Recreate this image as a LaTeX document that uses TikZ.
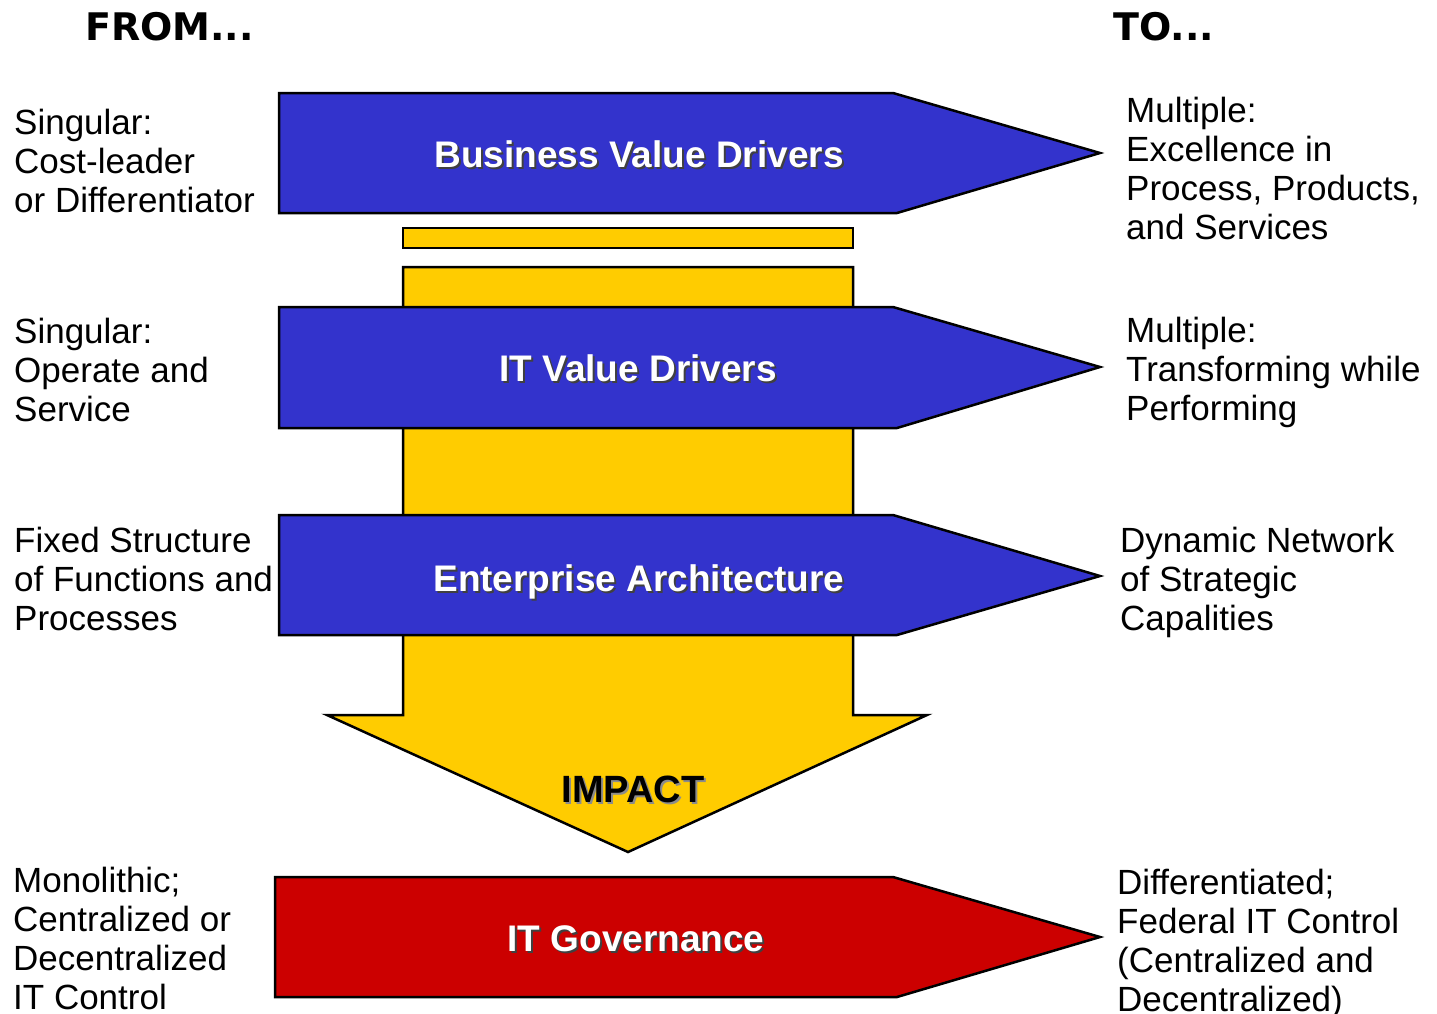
\documentclass[tikz,border=0pt]{standalone}
\usepackage{fontspec}
\setmainfont{Liberation Sans}
\newfontfamily\headfont{DejaVu Sans}
\definecolor{bvblue}{HTML}{3333CC}
\definecolor{impyellow}{HTML}{FFCC00}
\definecolor{govred}{HTML}{CC0000}
\begin{document}
\begin{tikzpicture}[x=1pt,y=-1pt,
  outline/.style={draw=black, line width=2.5pt, line join=miter},
  side/.style={inner sep=0pt, anchor=base west, font=\fontsize{35}{39}\selectfont},
  head/.style={inner sep=0pt, anchor=base west, font=\headfont\bfseries\fontsize{38}{40}\selectfont},
  arrowlabel/.style={inner sep=0pt, anchor=base, font=\bfseries\fontsize{37}{40}\selectfont, text=white},
  labelshadow/.style={arrowlabel, text=black!75},
  impactlabel/.style={inner sep=0pt, anchor=base, font=\bfseries\fontsize{38}{40}\selectfont, text=black},
  impactshadow/.style={impactlabel, text=black!45}]
\useasboundingbox (0,0) rectangle (1437,1013);

% headings
\node[head] (from) at (85,40) {FROM...};
\node[head] (to) at (1113,40) {TO...};

% yellow impact arrow and bar
\path[outline, fill=impyellow] (403,228) rectangle (853,248);
\path[outline, fill=impyellow] (403,267) -- (853,267) -- (853,715) -- (927,715)
  -- (628,852) -- (327,715) -- (403,715) -- cycle;

% blue arrows
\path[outline, fill=bvblue] (279,93) -- (893,93) -- (1100,153) -- (897,213) -- (279,213) -- cycle;
\path[outline, fill=bvblue] (279,307) -- (893,307) -- (1100,367) -- (897,428) -- (279,428) -- cycle;
\path[outline, fill=bvblue] (279,515) -- (893,515) -- (1100,576) -- (897,635) -- (279,635) -- cycle;
% red arrow
\path[outline, fill=govred] (275,877) -- (893,877) -- (1100,937) -- (897,997) -- (275,997) -- cycle;

% arrow labels
\node[labelshadow] (bvds) at (641,169) {Business Value Drivers};
\node[arrowlabel] (bvd) at (639,167) {Business Value Drivers};
\node[labelshadow] (itvds) at (640,383) {IT Value Drivers};
\node[arrowlabel] (itvd) at (638,381) {IT Value Drivers};
\node[labelshadow] (eas) at (641,593) {Enterprise Architecture};
\node[arrowlabel] (ea) at (639,591) {Enterprise Architecture};
\node[labelshadow] (itgs) at (638,953) {IT Governance};
\node[arrowlabel] (itg) at (636,951) {IT Governance};
\node[impactshadow] (imps) at (635,804) {IMPACT};
\node[impactlabel] (imp) at (633,802) {IMPACT};

% left texts
\node[side] (l1) at (14,134) {\vtop{\hbox{Singular:}\hbox{Cost-leader}\hbox{or Differentiator}}};
\node[side] (l2) at (14,343) {\vtop{\hbox{Singular:}\hbox{Operate and}\hbox{Service}}};
\node[side] (l3) at (14,552) {\vtop{\hbox{Fixed Structure}\hbox{of Functions and}\hbox{Processes}}};
\node[side] (l4) at (13,892) {\vtop{\hbox{Monolithic;}\hbox{Centralized or}\hbox{Decentralized}\hbox{IT Control}}};

% right texts
\node[side] (r1) at (1126,122) {\vtop{\hbox{Multiple:}\hbox{Excellence in}\hbox{Process, Products,}\hbox{and Services}}};
\node[side] (r2) at (1126,342) {\vtop{\hbox{Multiple:}\hbox{Transforming while}\hbox{Performing}}};
\node[side] (r3) at (1120,552) {\vtop{\hbox{Dynamic Network}\hbox{of Strategic}\hbox{Capalities}}};
\node[side] (r4) at (1117,894) {\vtop{\hbox{Differentiated;}\hbox{Federal IT Control}\hbox{(Centralized and}\hbox{Decentralized)}}};
\end{tikzpicture}
\end{document}
